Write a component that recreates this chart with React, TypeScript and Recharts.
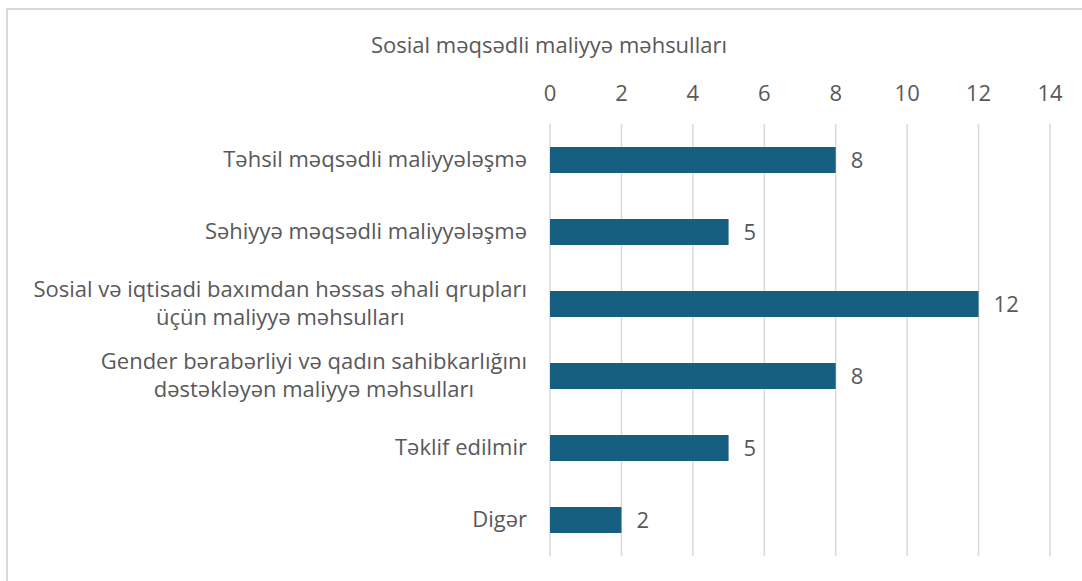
import { BarChart, Bar, XAxis, YAxis, CartesianGrid, LabelList } from "recharts";

const categories = [
  "Təhsil məqsədli maliyyələşmə",
  "Səhiyyə məqsədli maliyyələşmə",
  "Sosial və iqtisadi baxımdan həssas əhali qrupları\nüçün maliyyə məhsulları",
  "Gender bərabərliyi və qadın sahibkarlığını\ndəstəkləyən maliyyə məhsulları",
  "Təklif edilmir",
  "Digər",
];
const values = [8, 5, 12, 8, 5, 2];
const xTicks = [0, 2, 4, 6, 8, 10, 12, 14];

const data = categories.map((name, i) => ({ name, value: values[i] }));

const FONT = "'Open Sans', 'Noto Sans', sans-serif";
const FS = 22;
const TEXT = "#595959";

let ctx: CanvasRenderingContext2D | null = null;
const measure = (s: string) => {
  if (!ctx) ctx = document.createElement("canvas").getContext("2d");
  if (!ctx) return s.length * FS * 0.5;
  ctx.font = `${FS}px 'Open Sans'`;
  return ctx.measureText(s).width;
};

const CategoryTick = ({ y, payload }: { x?: number; y?: number; payload?: { value: string } }) => {
  const lines = String(payload?.value ?? "").split("\n");
  const lh = 28;
  const right = 527;
  const w = Math.max(...lines.map(measure));
  const cx = right - w / 2;
  const startDy = -((lines.length - 1) * lh) / 2;
  return (
    <text x={cx} y={y} textAnchor="middle" fill={TEXT} fontSize={FS} fontFamily={FONT}>
      {lines.map((l, i) => (
        <tspan key={i} x={cx} dy={i === 0 ? startDy + 7 : lh}>
          {l}
        </tspan>
      ))}
    </text>
  );
};

export default function App() {
  return (
    <div style={{ position: "absolute", left: 0, top: 0, width: 1082, height: 581, background: "#fff", overflow: "hidden", fontFamily: FONT }}>
      {/* chart frame */}
      <div
        style={{
          position: "absolute",
          left: 6,
          top: 8,
          width: 1200,
          height: 700,
          borderLeft: "2px solid #d9d9d9",
          borderTop: "2px solid #d9d9d9",
        }}
      />
      <div
        style={{
          position: "absolute",
          left: 0,
          width: 1098,
          top: 29,
          textAlign: "center",
          fontSize: FS,
          color: TEXT,
        }}
      >
        Sosial məqsədli maliyyə məhsulları
      </div>
      <div style={{ position: "absolute", left: 0, top: 0 }}>
        <BarChart
          width={1082}
          height={581}
          data={data}
          layout="vertical"
          margin={{ top: 94, right: 32, bottom: 25, left: 10 }}
          barSize={26}
        >
          <CartesianGrid horizontal={false} stroke="#d9d9d9" strokeWidth={1.5} />
          <XAxis
            type="number"
            orientation="top"
            domain={[0, 14]}
            ticks={xTicks}
            axisLine={false}
            tickLine={false}
            height={30}
            tickMargin={17}
            tick={{ fill: TEXT, fontSize: FS, fontFamily: FONT }}
          />
          <YAxis
            type="category"
            dataKey="name"
            width={540}
            axisLine={false}
            tickLine={false}
            tick={<CategoryTick />}
          />
          <Bar dataKey="value" fill="#175f80" isAnimationActive={false}>
            <LabelList dataKey="value" position="right" offset={15} fill={TEXT} fontSize={FS} fontFamily={FONT} />
          </Bar>
        </BarChart>
      </div>
    </div>
  );
}
